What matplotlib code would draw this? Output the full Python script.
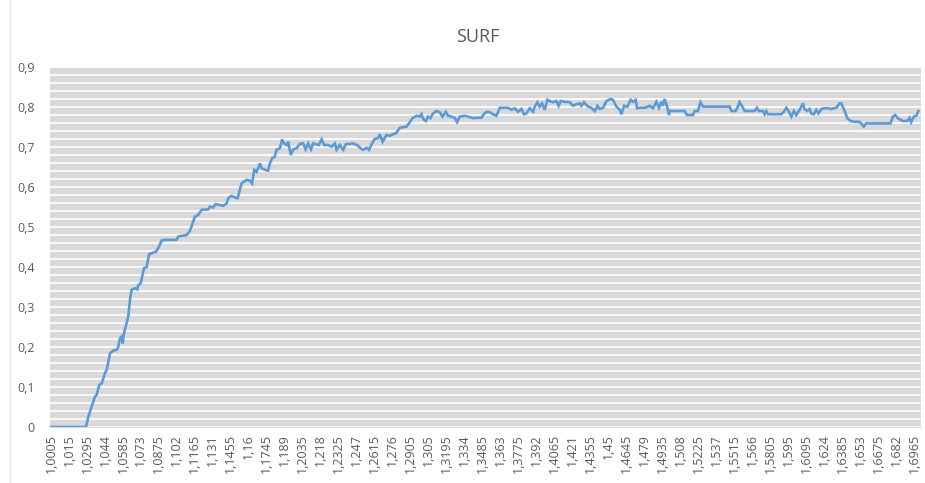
import matplotlib
matplotlib.use("Agg")
import matplotlib.pyplot as plt
from matplotlib.lines import Line2D
import numpy as np

# values (x = category value, y = SURF score)
dist = [
    1.0005, 1.0287, 1.0306, 1.0319, 1.0360, 1.0373, 1.0394, 1.0414, 1.0440, 1.0454,
    1.0481, 1.0507, 1.0535, 1.0547, 1.0561, 1.0575, 1.0583, 1.0593, 1.0628, 1.0642,
    1.0655, 1.0682, 1.0701, 1.0709, 1.0728, 1.0755, 1.0776, 1.0797, 1.0830, 1.0851,
    1.0870, 1.0897, 1.0924, 1.1018, 1.1031, 1.1099, 1.1125, 1.1166, 1.1192, 1.1220,
    1.1273, 1.1287, 1.1313, 1.1332, 1.1367, 1.1394, 1.1421, 1.1434, 1.1461, 1.1488,
    1.1510, 1.1528, 1.1542, 1.1582, 1.1609, 1.1627, 1.1644, 1.1663, 1.1690, 1.1703,
    1.1730, 1.1756, 1.1770, 1.1789, 1.1810, 1.1824, 1.1851, 1.1869, 1.1885, 1.1905,
    1.1918, 1.1939, 1.1958, 1.1985, 1.2012, 1.2039, 1.2058, 1.2079, 1.2101, 1.2119,
    1.2165, 1.2187, 1.2208, 1.2240, 1.2267, 1.2294, 1.2308, 1.2334, 1.2361, 1.2383,
    1.2442, 1.2482, 1.2501, 1.2522, 1.2550, 1.2570, 1.2590, 1.2616, 1.2643, 1.2657,
    1.2679, 1.2697, 1.2711, 1.2737, 1.2764, 1.2786, 1.2818, 1.2872, 1.2899, 1.2920,
    1.2953, 1.2979, 1.2993, 1.3006, 1.3028, 1.3046, 1.3065, 1.3086, 1.3114, 1.3140,
    1.3162, 1.3189, 1.3207, 1.3235, 1.3261, 1.3280, 1.3302, 1.3342, 1.3368, 1.3409,
    1.3436, 1.3476, 1.3495, 1.3517, 1.3543, 1.3570, 1.3597, 1.3624, 1.3691, 1.3718,
    1.3745, 1.3771, 1.3799, 1.3820, 1.3839, 1.3866, 1.3892, 1.3906, 1.3928, 1.3946,
    1.3965, 1.3987, 1.4008, 1.4027, 1.4054, 1.4081, 1.4099, 1.4116, 1.4148, 1.4188,
    1.4215, 1.4242, 1.4269, 1.4282, 1.4303, 1.4336, 1.4363, 1.4390, 1.4411, 1.4430,
    1.4457, 1.4484, 1.4519, 1.4537, 1.4565, 1.4591, 1.4605, 1.4626, 1.4653, 1.4680,
    1.4698, 1.4720, 1.4731, 1.4752, 1.4793, 1.4833, 1.4860, 1.4887, 1.4908, 1.4927,
    1.4940, 1.4954, 1.4972, 1.4989, 1.4994, 1.5115, 1.5134, 1.5182, 1.5196, 1.5222,
    1.5242, 1.5263, 1.5478, 1.5491, 1.5526, 1.5545, 1.5558, 1.5580, 1.5599, 1.5679,
    1.5698, 1.5714, 1.5746, 1.5760, 1.5773, 1.5787, 1.5894, 1.5915, 1.5935, 1.5953,
    1.5975, 1.5996, 1.6015, 1.6042, 1.6069, 1.6082, 1.6104, 1.6123, 1.6136, 1.6157,
    1.6176, 1.6195, 1.6217, 1.6243, 1.6270, 1.6292, 1.6338, 1.6364, 1.6378, 1.6405,
    1.6426, 1.6453, 1.6485, 1.6526, 1.6544, 1.6560, 1.6579, 1.6775, 1.6794, 1.6813,
    1.6834, 1.6856, 1.6875, 1.6910, 1.6929, 1.6942, 1.6963, 1.6983, 1.7000,
]
surf = [
    0.000, 0.000, 0.026, 0.038, 0.076, 0.080, 0.105, 0.109, 0.134, 0.143,
    0.184, 0.191, 0.193, 0.200, 0.222, 0.226, 0.209, 0.234, 0.276, 0.318,
    0.343, 0.347, 0.344, 0.355, 0.359, 0.397, 0.400, 0.432, 0.436, 0.438,
    0.447, 0.466, 0.468, 0.468, 0.476, 0.480, 0.490, 0.526, 0.530, 0.543,
    0.544, 0.551, 0.549, 0.557, 0.555, 0.553, 0.559, 0.572, 0.578, 0.574,
    0.572, 0.593, 0.609, 0.618, 0.616, 0.609, 0.643, 0.638, 0.659, 0.647,
    0.643, 0.641, 0.659, 0.672, 0.676, 0.693, 0.697, 0.719, 0.709, 0.705,
    0.713, 0.680, 0.694, 0.697, 0.708, 0.709, 0.694, 0.709, 0.694, 0.709,
    0.705, 0.719, 0.705, 0.705, 0.701, 0.709, 0.693, 0.705, 0.693, 0.707,
    0.709, 0.703, 0.697, 0.693, 0.698, 0.693, 0.707, 0.720, 0.722, 0.732,
    0.713, 0.723, 0.730, 0.728, 0.732, 0.734, 0.748, 0.751, 0.762, 0.772,
    0.778, 0.776, 0.782, 0.770, 0.765, 0.776, 0.772, 0.784, 0.790, 0.787,
    0.776, 0.788, 0.778, 0.776, 0.773, 0.762, 0.776, 0.778, 0.776, 0.772,
    0.773, 0.773, 0.782, 0.788, 0.787, 0.782, 0.778, 0.798, 0.798, 0.793,
    0.797, 0.788, 0.795, 0.782, 0.784, 0.797, 0.788, 0.801, 0.812, 0.801,
    0.809, 0.793, 0.818, 0.815, 0.812, 0.815, 0.803, 0.815, 0.813, 0.812,
    0.803, 0.807, 0.809, 0.803, 0.812, 0.801, 0.798, 0.790, 0.803, 0.795,
    0.798, 0.815, 0.820, 0.818, 0.801, 0.793, 0.782, 0.803, 0.801, 0.818,
    0.813, 0.818, 0.797, 0.798, 0.798, 0.803, 0.797, 0.813, 0.798, 0.813,
    0.803, 0.820, 0.803, 0.780, 0.790, 0.790, 0.780, 0.780, 0.790, 0.790,
    0.812, 0.801, 0.801, 0.790, 0.790, 0.801, 0.812, 0.801, 0.790, 0.790,
    0.798, 0.790, 0.790, 0.782, 0.790, 0.782, 0.782, 0.788, 0.798, 0.790,
    0.776, 0.790, 0.780, 0.793, 0.809, 0.795, 0.790, 0.795, 0.784, 0.782,
    0.793, 0.784, 0.795, 0.797, 0.797, 0.795, 0.798, 0.809, 0.809, 0.790,
    0.772, 0.765, 0.763, 0.763, 0.757, 0.751, 0.759, 0.759, 0.776, 0.780,
    0.772, 0.768, 0.765, 0.765, 0.773, 0.762, 0.776, 0.778, 0.790,
]

tick_start = 1.0005
tick_step = 0.0145
n_ticks = 49
y_ticks = [0.0, 0.1, 0.2, 0.3, 0.4, 0.5, 0.6, 0.7, 0.8, 0.9]

TXT = "#595959"
plt.rcParams["font.family"] = ["Open Sans", "DejaVu Sans"]

fig = plt.figure(figsize=(9.25, 4.83), dpi=100)
ax = fig.add_axes([50 / 925, (483 - 427) / 483, 871 / 925, 360 / 483])

ax.set_facecolor("#d9d9d9")
ax.set_ylim(0, 0.9)
ax.set_xlim(0.9997, 1.7021)

# white stripes every 0.02
ax.set_yticks(np.arange(0, 0.9001, 0.02), minor=True)
ax.yaxis.grid(True, which="minor", color="white", linewidth=1.2)
ax.yaxis.grid(True, which="major", color="white", linewidth=1.2)
ax.set_axisbelow(True)

ax.plot(dist, surf, color="#5b9bd5", linewidth=1.9, solid_joinstyle="miter")

xt = [tick_start + tick_step * k for k in range(n_ticks)]
xl = [("%.4f" % v).rstrip("0").replace(".", ",") for v in xt]
ax.set_xticks(xt)
ax.set_xticklabels(xl, rotation=90, fontsize=9, color=TXT)
ax.set_yticks(y_ticks)
ax.set_yticklabels([("%.1f" % v).replace(".", ",") if v else "0" for v in y_ticks],
                   fontsize=9, color=TXT)
ax.tick_params(axis="both", which="both", length=0)
ax.tick_params(axis="x", pad=5)
ax.tick_params(axis="y", pad=11)

for s in ["top", "right", "left"]:
    ax.spines[s].set_visible(False)
ax.spines["bottom"].set_color("#d9d9d9")

fig.text(478 / 925, 1 - 37 / 483, "SURF", ha="center", va="center",
         fontsize=13, color=TXT)

# faint chart area border on the left
fig.add_artist(Line2D([10 / 925, 10 / 925], [0, 1], transform=fig.transFigure,
                      color="#e6e6e6", linewidth=1))

fig.savefig("out.png", dpi=100, facecolor="white")
